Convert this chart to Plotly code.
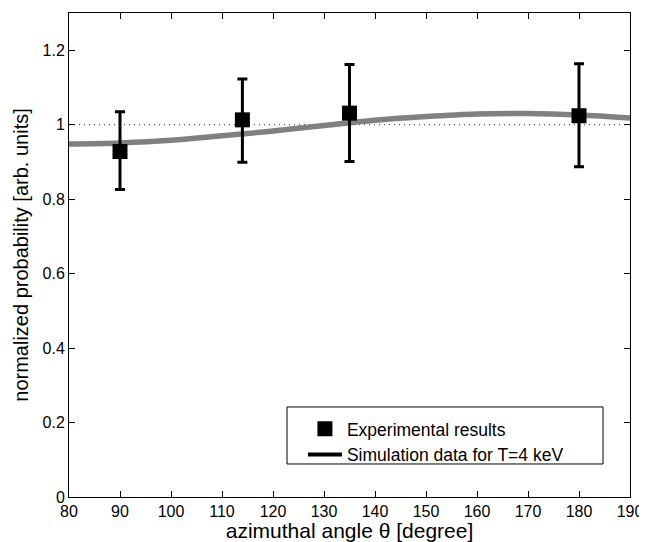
import plotly.graph_objects as go

# Experimental data
exp_angle = [90, 114, 135, 180]
exp_prob = [0.928, 1.013, 1.031, 1.024]
exp_err_plus = [0.107, 0.110, 0.131, 0.140]
exp_err_minus = [0.102, 0.114, 0.130, 0.137]

# Simulation curve
sim_angle = [80, 90, 100, 110, 120, 130, 140, 150, 160, 170, 180, 190]
sim_prob = [0.948, 0.951, 0.958, 0.970, 0.983, 0.998, 1.012, 1.022, 1.029, 1.030, 1.026, 1.018]

x_ticks = list(range(80, 191, 10))
y_ticks = [0, 0.2, 0.4, 0.6, 0.8, 1.0, 1.2]
y_tick_text = ["0", "0.2", "0.4", "0.6", "0.8", "1", "1.2"]

font = "Liberation Sans, Arial, Helvetica, sans-serif"

fig = go.Figure()

# reference line at 1
fig.add_trace(go.Scatter(x=[80, 190], y=[1, 1], mode="lines",
                         line=dict(color="#333333", width=1, dash="1px,4px"),
                         showlegend=False, hoverinfo="skip"))

# simulation curve (gray)
fig.add_trace(go.Scatter(x=sim_angle, y=sim_prob, mode="lines",
                         line=dict(color="#808080", width=5.5, shape="spline"),
                         showlegend=False))

# experimental points
fig.add_trace(go.Scatter(x=exp_angle, y=exp_prob, mode="markers",
                         marker=dict(symbol="square", size=15, color="black"),
                         error_y=dict(type="data", symmetric=False,
                                      array=exp_err_plus, arrayminus=exp_err_minus,
                                      color="black", thickness=3, width=5),
                         name="Experimental results"))

# legend entry for simulation (black line in legend)
fig.add_trace(go.Scatter(x=[None], y=[None], mode="lines",
                         line=dict(color="black", width=4),
                         name="Simulation data for T=4 keV"))

# legend frame
fig.add_shape(type="rect", xref="paper", yref="paper",
              x0=0.3886, x1=0.9519, y0=0.0682, y1=0.186,
              line=dict(color="black", width=1), fillcolor="rgba(0,0,0,0)")

fig.update_layout(
    width=639, height=534,
    margin=dict(l=61, r=17, t=5, b=45),
    paper_bgcolor="white", plot_bgcolor="white",
    font=dict(family=font, size=16, color="black"),
    showlegend=True,
    legend=dict(x=0.417, y=0.178, xanchor="left", yanchor="top",
                bgcolor="rgba(0,0,0,0)", borderwidth=0,
                font=dict(size=17.5, family=font), itemwidth=34,
                tracegroupgap=0),
    xaxis=dict(range=[80, 190], tickvals=x_ticks, ticks="inside", ticklen=6,
               tickcolor="black", showline=True, linecolor="black", linewidth=1,
               mirror="ticks", showgrid=False, zeroline=False,
               title=dict(text="azimuthal angle θ [degree]", font=dict(size=21), standoff=1),
               tickfont=dict(size=16)),
    yaxis=dict(range=[0, 1.3], tickvals=y_ticks, ticktext=y_tick_text, ticks="inside",
               ticklen=6, tickcolor="black", showline=True, linecolor="black", linewidth=1,
               mirror="ticks", showgrid=False, zeroline=False,
               title=dict(text="normalized probability [arb. units]", font=dict(size=20), standoff=8),
               tickfont=dict(size=16)),
)

fig.write_html("out.html")
